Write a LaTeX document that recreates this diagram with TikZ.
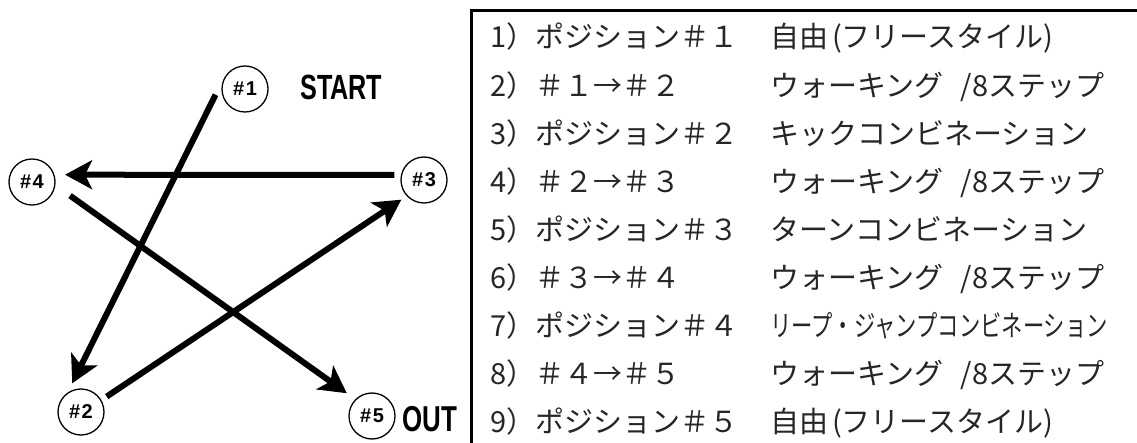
\documentclass[tikz,border=0pt]{standalone}
\usepackage{fontspec}
\usetikzlibrary{arrows.meta}
\newfontfamily\jp{Noto Sans CJK JP}
\newfontfamily\lsans{Liberation Sans}
\tikzset{
  posnode/.style={circle,draw,line width=1.3pt,minimum size=46pt,inner sep=0pt,outer sep=7pt,
    font=\lsans\bfseries\fontsize{20}{20}\selectfont},
  movearrow/.style={line width=6pt,-{Stealth[length=27pt,width=29pt,inset=7pt]}},
  bigtext/.style={anchor=base west,inner sep=0pt,font=\lsans\bfseries\fontsize{35}{35}\selectfont},
  rowtxt/.style={anchor=base west,inner sep=0pt,text=black!85,font=\jp\fontsize{29}{30}\selectfont},
  frameline/.style={line width=3pt}
}
\newcommand{\hs}[1]{\#\kern1.5pt#1}
\newcommand{\walk}{ウォーキング\hspace{0.6em}/8ステップ}
\newcommand{\free}{自由\kern4pt(フリースタイル)}
\begin{document}
\begin{tikzpicture}[x=1pt,y=-1pt]
\useasboundingbox (0,0) rectangle (1137,443);
% positions
\node[posnode] (n1) at (245,89) {\hs{1}};
\node[posnode] (n2) at (81,412) {\hs{2}};
\node[posnode] (n3) at (424,180) {\hs{3}};
\node[posnode] (n4) at (32,182) {\hs{4}};
\node[posnode] (n5) at (372,416) {\hs{5}};
\node[bigtext] (start) at (300,100) {\scalebox{0.72}[1]{START}};
\node[bigtext,font=\lsans\bfseries\fontsize{36}{36}\selectfont] (out) at (402,431) {\scalebox{0.72}[1]{OUT}};
% arrows
\draw[movearrow] (n1.191) -- (n2.107);
\draw[movearrow] (n2.31) -- (n3.221);
\draw[movearrow,shorten >=4pt] (n3.170) -- (n4.14);
\draw[movearrow,shorten <=11pt,shorten >=4pt] (n4.-14) -- (n5.137);
% frame
\coordinate (fa) at (471,443);
\coordinate (fb) at (471,11);
\coordinate (fc) at (1137,11);
\draw[frameline] (fa) -- (fb) -- (fc);
% table
\foreach \i/\a/\b in {
 1/{1）ポジション＃１}/{\free},
 2/{2）＃１→＃２}/{\walk},
 3/{3）ポジション＃２}/{キックコンビネーション},
 4/{4）＃２→＃３}/{\walk},
 5/{5）ポジション＃３}/{ターンコンビネーション},
 6/{6）＃３→＃４}/{\walk},
 8/{8）＃４→＃５}/{\walk},
 9/{9）ポジション＃５}/{\free}}{
  \node[rowtxt] (a\i) at (490,{48+48.1*(\i-1)}) {\a};
  \node[rowtxt] (b\i) at (770,{48+48.1*(\i-1)}) {\b};
}
\node[rowtxt] (a7) at (490,{48+48.1*6}) {7）ポジション＃４};
\node[rowtxt] (b7) at (770,{48+48.1*6}) {\scalebox{0.735}[1]{リープ・ジャンプコンビネーション}};
\end{tikzpicture}
\end{document}
